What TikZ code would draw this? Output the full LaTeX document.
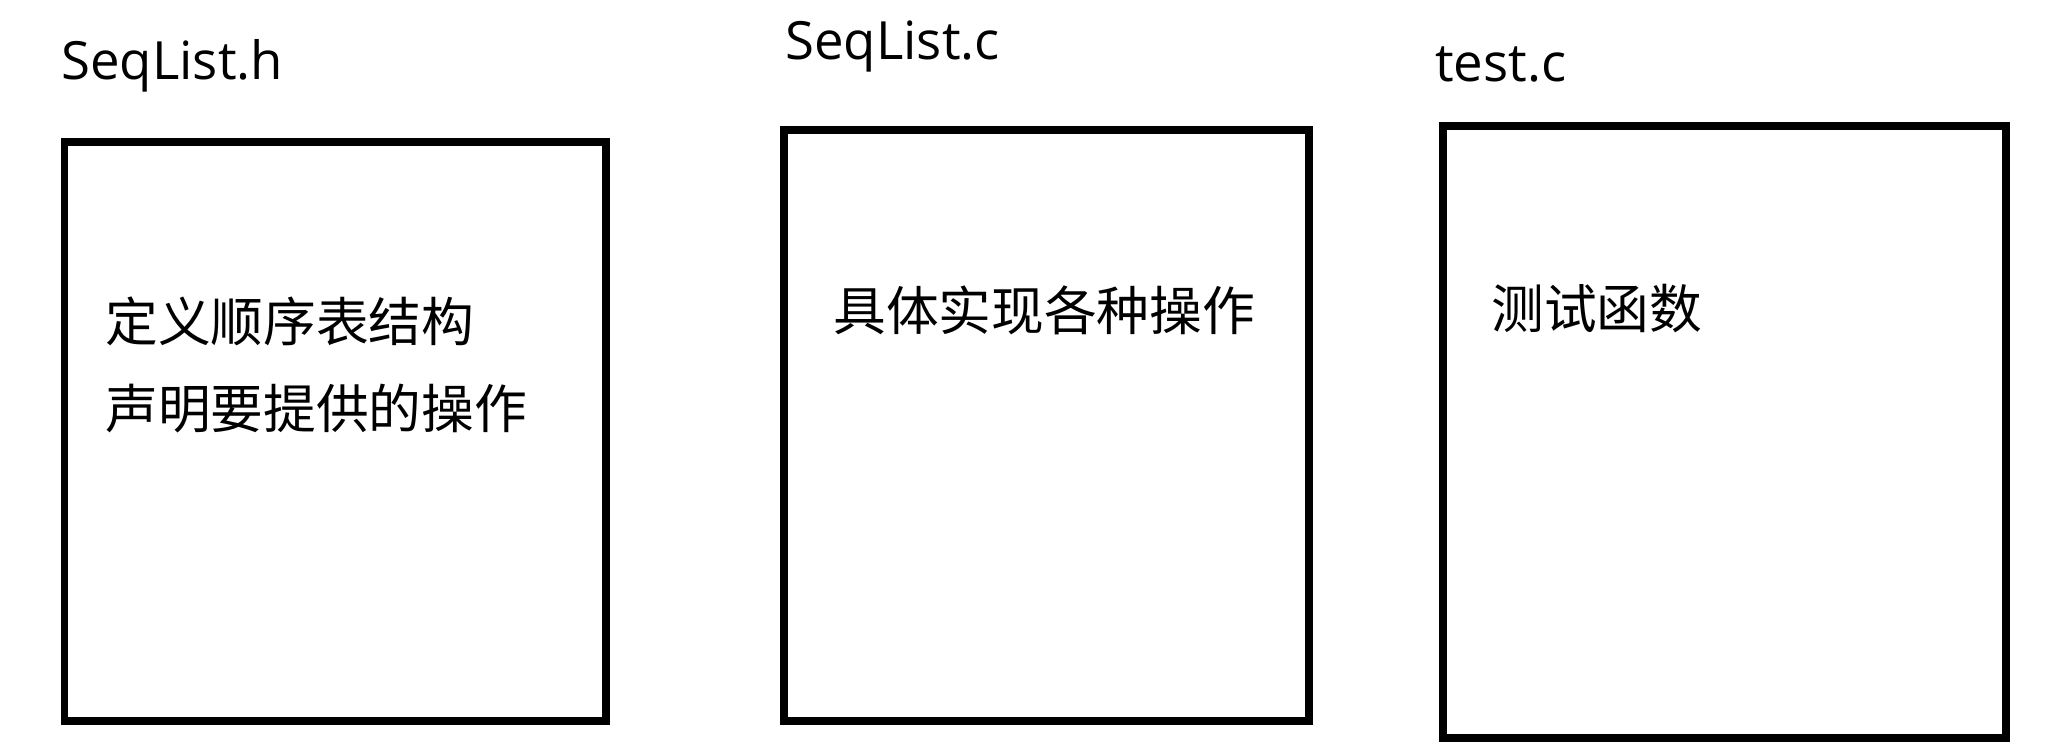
\documentclass[tikz,border=0pt]{standalone}
\usepackage{fontspec}
\setmainfont{Open Sans}
\newfontfamily\cjk{Noto Sans CJK SC}

\begin{document}
\begin{tikzpicture}[
    filebox/.style={draw=black, line width=4.5pt, inner sep=0pt},
    filename/.style={anchor=base west, inner sep=0pt, font=\fontsize{30}{36}\selectfont},
    note/.style={anchor=west, inner sep=0pt, align=left, font=\cjk\fontsize{30}{49.5}\selectfont}
]
\useasboundingbox (0,0) rectangle (41.26,14.94);
    % die drei Dateien
    \node[filebox, minimum width=10.83cm, minimum height=11.58cm] (hbox) at (6.705,6.31) {};
    \node[filebox, minimum width=10.50cm, minimum height=11.82cm] (cbox) at (20.93,6.43) {};
    \node[filebox, minimum width=11.26cm, minimum height=12.24cm] (tbox) at (34.49,6.30) {};
    \node[filename] (hname) at (1.22,13.34) {SeqList.h};
    \node[filename] (cname) at (15.70,13.74) {SeqList.c};
    \node[filename] (tname) at (28.70,13.30) {test.c};
    \node[note] (htext) at (2.10,7.65) {定义顺序表结构\\声明要提供的操作};
    \node[note] (ctext) at (16.66,8.74) {具体实现各种操作};
    \node[note] (ttext) at (29.82,8.76) {测试函数};
\end{tikzpicture}
\end{document}
